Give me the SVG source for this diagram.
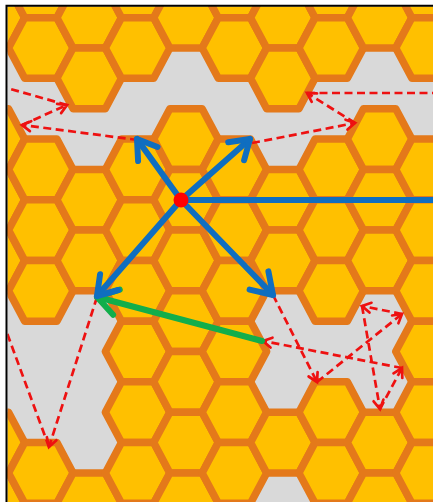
<svg xmlns="http://www.w3.org/2000/svg" width="433" height="502" viewBox="0 0 433 502">
<defs>
<style>
#comb{fill:#FFC000;stroke:#E4791A;stroke-width:7.5;stroke-linejoin:round}
.rd{fill:none;stroke:#EE1111;stroke-width:2.7;stroke-dasharray:8 4.5}
.rh{fill:none;stroke:#EE1111;stroke-width:2.7;stroke-linecap:round;stroke-linejoin:miter}
.bl{fill:none;stroke:#0F6EC0;stroke-width:6;stroke-linecap:round;stroke-linejoin:round}
.gr{fill:none;stroke:#12AE4B;stroke-width:6;stroke-linecap:round;stroke-linejoin:round}
</style>
<path id="hx" d="M-32.27 0L-16.13-30.35H16.13L32.27 0L16.13 30.35H-16.13Z"/>
<clipPath id="clip"><rect x="7.5" y="6.5" width="426" height="496"/></clipPath>
</defs>
<rect width="433" height="502" fill="#FFFFFF"/>
<g clip-path="url(#clip)">
<rect width="433" height="502" fill="#D9D9D9"/>
<g id="comb">
<g id="col-1" transform="translate(-7.6 0)"><use href="#hx" y="17.65"/><use href="#hx" y="139.05"/><use href="#hx" y="199.75"/><use href="#hx" y="260.45"/><use href="#hx" y="442.55"/><use href="#hx" y="503.25"/></g>
<g id="col0" transform="translate(40.8 0)"><use href="#hx" y="-12.7"/><use href="#hx" y="48"/><use href="#hx" y="169.4"/><use href="#hx" y="230.1"/><use href="#hx" y="290.8"/><use href="#hx" y="472.9"/></g>
<g id="col1" transform="translate(89.2 0)"><use href="#hx" y="17.65"/><use href="#hx" y="78.35"/><use href="#hx" y="199.75"/><use href="#hx" y="260.45"/><use href="#hx" y="503.25"/></g>
<g id="col2" transform="translate(137.6 0)"><use href="#hx" y="-12.7"/><use href="#hx" y="48"/><use href="#hx" y="169.4"/><use href="#hx" y="230.1"/><use href="#hx" y="290.8"/><use href="#hx" y="351.5"/><use href="#hx" y="412.2"/><use href="#hx" y="472.9"/></g>
<g id="col3" transform="translate(186 0)"><use href="#hx" y="17.65"/><use href="#hx" y="139.05"/><use href="#hx" y="199.75"/><use href="#hx" y="260.45"/><use href="#hx" y="321.15"/><use href="#hx" y="381.85"/><use href="#hx" y="442.55"/><use href="#hx" y="503.25"/></g>
<g id="col4" transform="translate(234.4 0)"><use href="#hx" y="-12.7"/><use href="#hx" y="48"/><use href="#hx" y="169.4"/><use href="#hx" y="230.1"/><use href="#hx" y="290.8"/><use href="#hx" y="351.5"/><use href="#hx" y="412.2"/><use href="#hx" y="472.9"/></g>
<g id="col5" transform="translate(282.8 0)"><use href="#hx" y="17.65"/><use href="#hx" y="78.35"/><use href="#hx" y="199.75"/><use href="#hx" y="260.45"/><use href="#hx" y="442.55"/></g>
<g id="col6" transform="translate(331.2 0)"><use href="#hx" y="-12.7"/><use href="#hx" y="48"/><use href="#hx" y="169.4"/><use href="#hx" y="230.1"/><use href="#hx" y="290.8"/><use href="#hx" y="412.2"/><use href="#hx" y="472.9"/></g>
<g id="col7" transform="translate(379.6 0)"><use href="#hx" y="17.65"/><use href="#hx" y="139.05"/><use href="#hx" y="199.75"/><use href="#hx" y="260.45"/><use href="#hx" y="442.55"/><use href="#hx" y="503.25"/></g>
<g id="col8" transform="translate(428 0)"><use href="#hx" y="-12.7"/><use href="#hx" y="48"/><use href="#hx" y="169.4"/><use href="#hx" y="230.1"/><use href="#hx" y="290.8"/><use href="#hx" y="351.5"/><use href="#hx" y="412.2"/><use href="#hx" y="472.9"/></g>
</g>
<g id="connectors">
<g id="walks">
<path class="rd" d="M138 140L22 125M22 125L67 105M67 105L0 86"/>
<path class="rd" d="M252 143L355 123M355 123L307 93M307 93H440"/>
<path class="rd" d="M97 297L49 447M49 447L0 314"/>
<path class="rd" d="M273 295L317 382M317 382L402 314M402 314L362 306M362 306L380 409M380 409L402 368M402 368L263 341"/>
<polyline class="rh" points="29.9,131.1 22,125 31.2,121.2"/>
<polyline class="rh" points="57.1,103.9 67,105 61.1,113.1"/>
<polyline class="rh" points="345.5,119.7 355,123 347.5,129.6"/>
<polyline class="rh" points="311.7,101.8 307,93 317,93.4"/>
<polyline class="rh" points="56.4,440.3 49,447 46.9,437.2"/>
<polyline class="rh" points="317.6,372 317,382 308.6,376.5"/>
<polyline class="rh" points="392.1,315.5 402,314 398.4,323.3"/>
<polyline class="rh" points="369.5,312.6 362,306 371.5,302.8"/>
<polyline class="rh" points="383.4,399.6 380,409 373.6,401.3"/>
<polyline class="rh" points="393.5,373.3 402,368 402.3,378"/>
<polyline class="rh" points="270.5,347.6 263,341 272.5,337.7"/>
</g>
<g id="green-arrow">
<line class="gr" x1="262" y1="341" x2="97" y2="297"/>
<polyline class="gr" points="113.1,314.8 97,297 119.8,289.6"/>
</g>
<g id="blue-arrows">
<line class="bl" x1="181" y1="200" x2="137" y2="139"/>
<polyline class="bl" points="138.1,161 137,139 157.5,147"/>
<line class="bl" x1="181" y1="200" x2="250" y2="139"/>
<polyline class="bl" points="228.2,142.2 250,139 244.1,160.2"/>
<line class="bl" x1="181" y1="200" x2="97" y2="296"/>
<polyline class="bl" points="118.2,290 97,296 100.1,274.2"/>
<line class="bl" x1="181" y1="200" x2="273" y2="295"/>
<polyline class="bl" points="268.4,271.4 273,295 249.6,289.6"/>
<line class="bl" x1="181" y1="200" x2="440" y2="200"/>
</g>
</g>
<g id="red-dot"><circle cx="181" cy="200" r="7.5" fill="#FF0000"/></g>
</g>
<path d="M6.5 502V5.8H433" fill="none" stroke="#000000" stroke-width="2"/>
</svg>
